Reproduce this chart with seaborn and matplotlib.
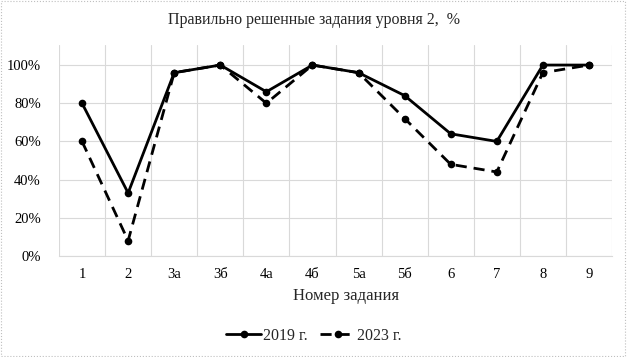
import matplotlib
matplotlib.use("Agg")
import matplotlib.pyplot as plt
import pandas as pd
import seaborn as sns
from matplotlib.patches import Rectangle
from matplotlib.ticker import FuncFormatter, MultipleLocator

tasks = ["1", "2", "3а", "3б", "4а", "4б", "5а", "5б", "6", "7", "8", "9"]
vals_2019 = [0.80, 0.33, 0.96, 1.00, 0.86, 1.00, 0.96, 0.84, 0.64, 0.60, 1.00, 1.00]
vals_2023 = [0.60, 0.08, 0.96, 1.00, 0.80, 1.00, 0.96, 0.72, 0.48, 0.44, 0.96, 1.00]
series = ["2019 г.", "2023 г."]

df = pd.DataFrame({
    "task": tasks * 2,
    "value": vals_2019 + vals_2023,
    "year": [series[0]] * len(tasks) + [series[1]] * len(tasks),
})

sns.set_theme(style="white")
plt.rcParams["font.family"] = ["Liberation Serif", "DejaVu Serif"]

W, H = 627, 357
fig = plt.figure(figsize=(W / 100, H / 100), dpi=100)
ax = fig.add_axes([59 / W, 1 - 256 / H, (612 - 59) / W, (256 - 45) / H])

sns.lineplot(
    data=df, x="task", y="value", hue="year", style="year",
    palette=["black", "black"], dashes=[(None, None), (4, 2.5)],
    markers=["o", "o"], markersize=5.5, markeredgewidth=0,
    linewidth=2.0, ax=ax,
)

ax.set_xlim(-0.5, len(tasks) - 0.5)
ax.set_ylim(0, 1.105)
ax.yaxis.set_major_locator(MultipleLocator(0.2))
ax.yaxis.set_major_formatter(FuncFormatter(lambda v, _: f"{v * 100:.0f}%"))
ax.set_xticks(range(len(tasks)))
ax.set_xticklabels(tasks)
ax.set_xticks([i + 0.5 for i in range(-1, len(tasks))], minor=True)
ax.grid(True, axis="y", which="major", color="#d9d9d9", linewidth=0.8)
ax.grid(True, axis="x", which="minor", color="#d9d9d9", linewidth=0.8)
ax.grid(False, axis="x", which="major")
ax.tick_params(axis="both", which="both", length=0, labelsize=10.5, colors="black")
ax.tick_params(axis="x", pad=9)
ax.tick_params(axis="y", pad=13)
for side in ["top", "left", "right"]:
    ax.spines[side].set_visible(False)
ax.spines["bottom"].set_color("#d9d9d9")
ax.spines["bottom"].set_linewidth(0.8)

ax.set_xlabel("")
ax.set_ylabel("")
fig.text(314 / W, 1 - 20 / H, "Правильно решенные задания уровня 2,  %",
         ha="center", va="center", fontsize=11.5)
fig.text(346 / W, 1 - 296 / H, "Номер задания",
         ha="center", va="center", fontsize=12)

handles, labels = ax.get_legend_handles_labels()
ax.legend(handles, labels, loc="center", bbox_to_anchor=(314 / W, 1 - 336 / H),
          bbox_transform=fig.transFigure,
          ncol=2, frameon=False, fontsize=11.5, handlelength=2.2,
          columnspacing=0.8, handletextpad=0.1)

fig.patches.append(Rectangle((0.002, 0.003), 0.995, 0.994, transform=fig.transFigure,
                             fill=False, edgecolor="#bfbfbf", linewidth=0.8,
                             linestyle=":"))

fig.savefig("out.png", dpi=100)
